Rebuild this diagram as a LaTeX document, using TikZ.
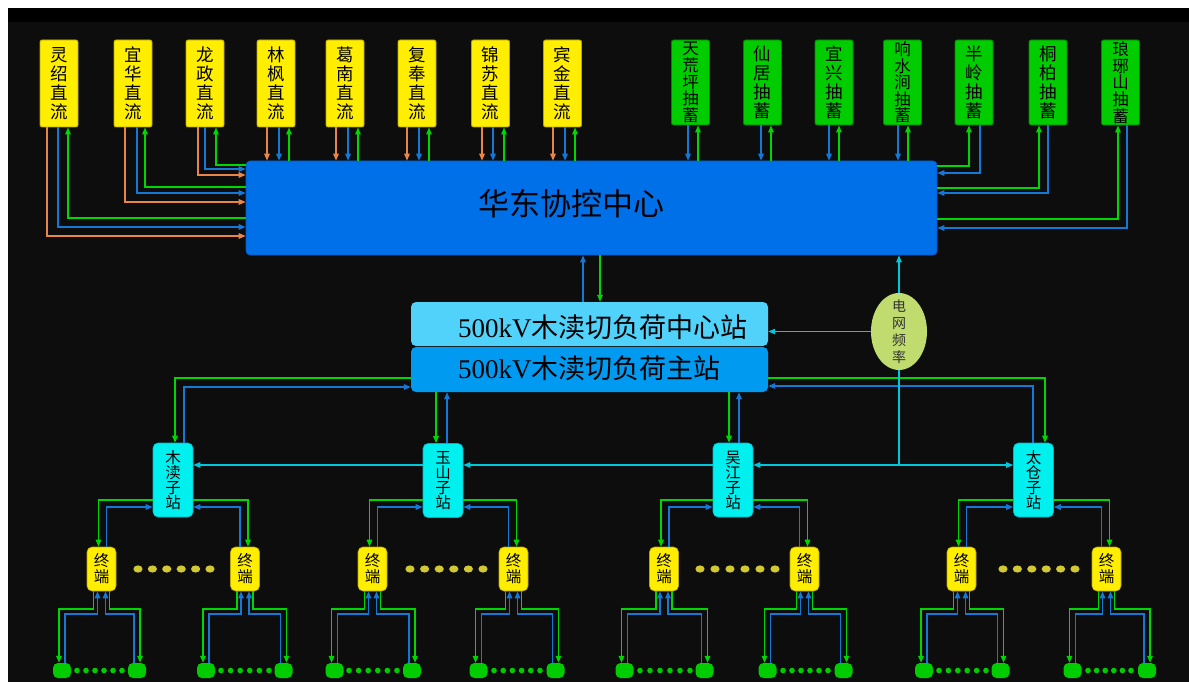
\documentclass[tikz,border=0pt]{standalone}
\usepackage{fontspec}
\setmainfont{Liberation Serif}
\newfontfamily\cjk{Noto Sans CJK SC}
\newfontfamily\lat{Liberation Serif}
\usetikzlibrary{arrows.meta,shapes.geometric,calc}
\definecolor{cBg}{RGB}{13,13,13}
\definecolor{cYe}{RGB}{255,238,0}
\definecolor{cYeD}{RGB}{185,165,0}
\definecolor{cGrBox}{RGB}{0,204,0}
\definecolor{cGrBoxD}{RGB}{0,130,0}
\definecolor{cHd}{RGB}{0,112,232}
\definecolor{cHdD}{RGB}{0,90,200}
\definecolor{cCs}{RGB}{80,210,250}
\definecolor{cMs}{RGB}{0,155,240}
\definecolor{cSub}{RGB}{0,240,240}
\definecolor{cSubD}{RGB}{0,180,200}
\definecolor{cFr}{RGB}{192,220,110}
\definecolor{cDot}{RGB}{210,200,50}
\definecolor{cOr}{RGB}{232,134,74}
\definecolor{cBl}{RGB}{20,120,215}
\definecolor{cGr}{RGB}{0,215,0}
\definecolor{cCy}{RGB}{0,200,220}
\tikzset{
  arr/.style={-{Triangle[length=7pt,width=5.5pt]}},
  lnOr/.style={line width=1.4pt,draw=cOr},
  lnBl/.style={line width=1.4pt,draw=cBl},
  lnGr/.style={line width=1.4pt,draw=cGr},
  lnCy/.style={line width=1.1pt,draw=cCy},
  dcbox/.style={draw=cYeD,fill=cYe,rounded corners=2pt,line width=0.8pt,
    minimum width=38pt,minimum height=87pt,inner sep=0pt,align=center,
    font=\cjk\fontsize{17.5}{19}\selectfont},
  psbox/.style={dcbox,draw=cGrBoxD,fill=cGrBox,minimum height=85pt},
  psfive/.style={psbox,font=\cjk\fontsize{16.5}{16.6}\selectfont},
  subbox/.style={draw=cSubD,fill=cSub,rounded corners=5pt,line width=0.6pt,
    minimum width=40pt,minimum height=74pt,inner sep=0pt,align=center,
    font=\cjk\fontsize{15.5}{15}\selectfont},
  termbox/.style={draw=cYeD,fill=cYe,rounded corners=5pt,line width=0.6pt,
    minimum width=29pt,minimum height=44pt,inner sep=0pt,align=center,
    font=\cjk\fontsize{15.5}{16}\selectfont},
  leaf/.style={fill=cGrBox,draw=none,rounded corners=5pt,
    minimum width=18pt,minimum height=15pt,inner sep=0pt},
}
\begin{document}
\begin{tikzpicture}[x=1pt,y=-1pt,font=\cjk]
\useasboundingbox (0,0) rectangle (1189,682);
\fill[white] (0,0) rectangle (1189,682);
\fill[black] (8,8) rectangle (1189,682);
\fill[cBg] (8,22) rectangle (1189,682);

% top DC boxes
\node[dcbox] (dc1) at (59,83.5) {灵\\绍\\直\\流};
\node[dcbox] (dc2) at (133,83.5) {宜\\华\\直\\流};
\node[dcbox] (dc3) at (205,83.5) {龙\\政\\直\\流};
\node[dcbox] (dc4) at (276,83.5) {林\\枫\\直\\流};
\node[dcbox] (dc5) at (345,83.5) {葛\\南\\直\\流};
\node[dcbox] (dc6) at (417,83.5) {复\\奉\\直\\流};
\node[dcbox] (dc7) at (490.5,83.5) {锦\\苏\\直\\流};
\node[dcbox] (dc8) at (562.5,83.5) {宾\\金\\直\\流};
% pumped storage
\node[psfive] (ps1) at (690.5,82.5) {天\\荒\\坪\\抽\\蓄};
\node[psbox] (ps2) at (762.5,82.5) {仙\\居\\抽\\蓄};
\node[psbox] (ps3) at (834,82.5) {宜\\兴\\抽\\蓄};
\node[psfive] (ps4) at (902.5,82.5) {响\\水\\涧\\抽\\蓄};
\node[psbox] (ps5) at (974,82.5) {半\\岭\\抽\\蓄};
\node[psbox] (ps6) at (1048,82.5) {桐\\柏\\抽\\蓄};
\node[psfive] (ps7) at (1120.5,82.5) {琅\\琊\\山\\抽\\蓄};

% main centre
\node[draw=cHdD,fill=cHd,rounded corners=4pt,line width=0.6pt,minimum width=691pt,minimum height=94pt,inner sep=0pt] (hd) at (591.5,208) {};
\node[font=\cjk\fontsize{31}{31}\selectfont] (hdt) at (571,204) {华东协控中心};

% stations
\node[fill=cCs,rounded corners=5pt,minimum width=357pt,minimum height=44pt,inner sep=0pt] (cs) at (589.5,324) {};
\node[fill=cMs,rounded corners=5pt,minimum width=357pt,minimum height=45pt,inner sep=0pt] (ms) at (589.5,369.5) {};
\node[anchor=west,inner sep=0pt,font=\cjk\fontsize{27}{27}\selectfont] (cst) at ($(cs.west)+(47,3)$) {{\lat 500kV}木渎切负荷中心站};
\node[anchor=west,inner sep=0pt,font=\cjk\fontsize{27}{27}\selectfont] (mst) at ($(ms.west)+(47,-1.5)$) {{\lat 500kV}木渎切负荷主站};

% frequency ellipse
\node[ellipse,fill=cFr,draw=none,minimum width=56pt,minimum height=77pt,inner sep=0pt] (fr) at (899,331.5) {};
\node[font=\cjk\fontsize{14}{17}\selectfont,align=center,text=black!80,inner sep=0pt] (frt) at (fr) {电\\网\\频\\率};

% substations
\node[subbox] (sub1) at (173,480) {木\\渎\\子\\站};
\node[subbox] (sub2) at (443,480.5) {玉\\山\\子\\站};
\node[subbox] (sub3) at (733,480) {吴\\江\\子\\站};
\node[subbox] (sub4) at (1033.5,480) {太\\仓\\子\\站};

% terminals
\foreach \n/\x in {t1a/101.5,t1b/245,t2a/372.5,t2b/513.5,t3a/664,t3b/804.5,t4a/961.5,t4b/1106.5}
  \node[termbox] (\n) at (\x,569) {终\\端};

% leaves
\foreach \n/\x in {b1/62,b2/137,b3/206,b4/283.5,b5/334.5,b6/412,b7/478.5,b8/555.5,
  b9/624.5,b10/704.5,b11/767.5,b12/843.5,b13/924,b14/1000.5,b15/1072.5,b16/1147}
  \node[leaf] (\n) at (\x,670.5) {};

% yellow dots between terminals
\foreach \s/\e in {138/210,410/483,700/775,1003/1075}
  \foreach \i in {0,...,5}
    \fill[cDot] ({\s+\i*(\e-\s)/5},569) ellipse [x radius=4.6pt,y radius=3.6pt];
% green dots between leaves
\foreach \s/\e in {77/122,221/269,349/397,494/540,640/690,783/828,939/986,1088/1131}
  \foreach \i in {0,...,5}
    \fill[cGrBox] ({\s+\i*(\e-\s)/5},670.5) circle [radius=2.8pt];

% ---- DC connectors (left group)
\foreach \b/\xo/\yo/\xb/\yb/\xg/\yg in {dc1/47/236/58/227/68/218,dc2/125/202/137/193/145/187,dc3/198/175/205/169/216/165}{
  \draw[lnOr,arr] (\b.south -| \xo,0) |- (hd.west |- 0,\yo);
  \draw[lnBl,arr] (\b.south -| \xb,0) |- (hd.west |- 0,\yb);
  \draw[lnGr,arr] (hd.west |- 0,\yg) -| (\b.south -| \xg,0);
}
% ---- DC connectors (vertical)
\foreach \b/\xo/\xb/\xg in {dc4/267/279/289,dc5/336/348/358,dc6/407/419/429,dc7/482/493/504,dc8/553/565/575}{
  \draw[lnOr,arr] (\b.south -| \xo,0) -- (hd.north -| \xo,0);
  \draw[lnBl,arr] (\b.south -| \xb,0) -- (hd.north -| \xb,0);
  \draw[lnGr,arr] (hd.north -| \xg,0) -- (\b.south -| \xg,0);
}
% ---- pumped storage vertical
\foreach \b/\xb/\xg in {ps1/688/698,ps2/761/771,ps3/829/839,ps4/898/908}{
  \draw[lnBl,arr] (\b.south -| \xb,0) -- (hd.north -| \xb,0);
  \draw[lnGr,arr] (hd.north -| \xg,0) -- (\b.south -| \xg,0);
}
% ---- pumped storage right group
\foreach \b/\xg/\yg/\xb/\yb in {ps5/969/166/980/173,ps6/1039/188/1048/193,ps7/1118/219/1127/228}{
  \draw[lnGr,arr] (hd.east |- 0,\yg) -| (\b.south -| \xg,0);
  \draw[lnBl,arr] (\b.south -| \xb,0) |- (hd.east |- 0,\yb);
}

% ---- centre station <-> main centre
\draw[lnBl,arr] (cs.north -| 583,0) -- (hd.south -| 583,0);
\draw[lnGr,arr] (hd.south -| 600,0) -- (cs.north -| 600,0);

% ---- main station <-> substations
\draw[lnGr,arr] (ms.west |- 0,378) -| (sub1.north -| 175,0);
\draw[lnBl,arr] (sub1.north -| 184,0) |- (ms.west |- 0,387);
\draw[lnGr,arr] (ms.east |- 0,378) -| (sub4.north -| 1045,0);
\draw[lnBl,arr] (sub4.north -| 1033,0) |- (ms.east |- 0,386);
\draw[lnGr,arr] (ms.south -| 436,0) -- (sub2.north -| 436,0);
\draw[lnBl,arr] (sub2.north -| 447,0) -- (ms.south -| 447,0);
\draw[lnGr,arr] (ms.south -| 729,0) -- (sub3.north -| 729,0);
\draw[lnBl,arr] (sub3.north -| 739,0) -- (ms.south -| 739,0);

% ---- frequency lines
\coordinate (jn) at (899,465);
\draw[lnCy,arr] (fr.north) -- (hd.south -| fr.north);
\draw[lnCy,arr] (fr.west) -- (cs.east |- fr.west);
\draw[lnCy] (fr.south) -- (jn);
\draw[lnCy,arr] (jn) -- (sub4.west |- jn);
\draw[lnCy,arr] (jn) -- (sub3.east |- jn);
\draw[lnCy,arr] (sub3.west |- jn) -- (sub2.east |- jn);
\draw[lnCy,arr] (sub2.west |- jn) -- (sub1.east |- jn);

% ---- substations <-> terminals
\foreach \s/\a/\b/\ax/\bx in {sub1/t1a/t1b/101.5/245,sub2/t2a/t2b/372.5/513.5,sub3/t3a/t3b/664/804.5,sub4/t4a/t4b/961.5/1106.5}{
  \pgfmathsetmacro\xGa{\ax-3}\pgfmathsetmacro\xBa{\ax+5}
  \pgfmathsetmacro\xGb{\bx+3}\pgfmathsetmacro\xBb{\bx-5}
  \draw[lnGr,arr] (\s.west |- 0,500) -| (\a.north -| \xGa,0);
  \draw[lnBl,arr] (\a.north -| \xBa,0) |- (\s.west |- 0,507);
  \draw[lnGr,arr] (\s.east |- 0,500) -| (\b.north -| \xGb,0);
  \draw[lnBl,arr] (\b.north -| \xBb,0) |- (\s.east |- 0,507);
}

% ---- terminals <-> leaves
\foreach \t/\tx/\L/\lx/\R/\rx in {t1a/101.5/b1/62/b2/137,t1b/245/b3/206/b4/283.5,
  t2a/372.5/b5/334.5/b6/412,t2b/513.5/b7/478.5/b8/555.5,
  t3a/664/b9/624.5/b10/704.5,t3b/804.5/b11/767.5/b12/843.5,
  t4a/961.5/b13/924/b14/1000.5,t4b/1106.5/b15/1072.5/b16/1147}{
  \pgfmathsetmacro\xGa{\tx-8}\pgfmathsetmacro\xBa{\tx-4}
  \pgfmathsetmacro\xBb{\tx+4}\pgfmathsetmacro\xGb{\tx+8}
  \pgfmathsetmacro\xGl{\lx-3}\pgfmathsetmacro\xBl{\lx+3}
  \pgfmathsetmacro\xBr{\rx-3}\pgfmathsetmacro\xGr{\rx+3}
  \draw[lnGr,arr] (\t.south -| \xGa,0) |- (\xGl,609) -- (\L.north -| \xGl,0);
  \draw[lnBl,arr] (\L.north -| \xBl,0) |- (\xBa,614) -- (\t.south -| \xBa,0);
  \draw[lnBl,arr] (\R.north -| \xBr,0) |- (\xBb,614) -- (\t.south -| \xBb,0);
  \draw[lnGr,arr] (\t.south -| \xGb,0) |- (\xGr,609) -- (\R.north -| \xGr,0);
}
\end{tikzpicture}
\end{document}
